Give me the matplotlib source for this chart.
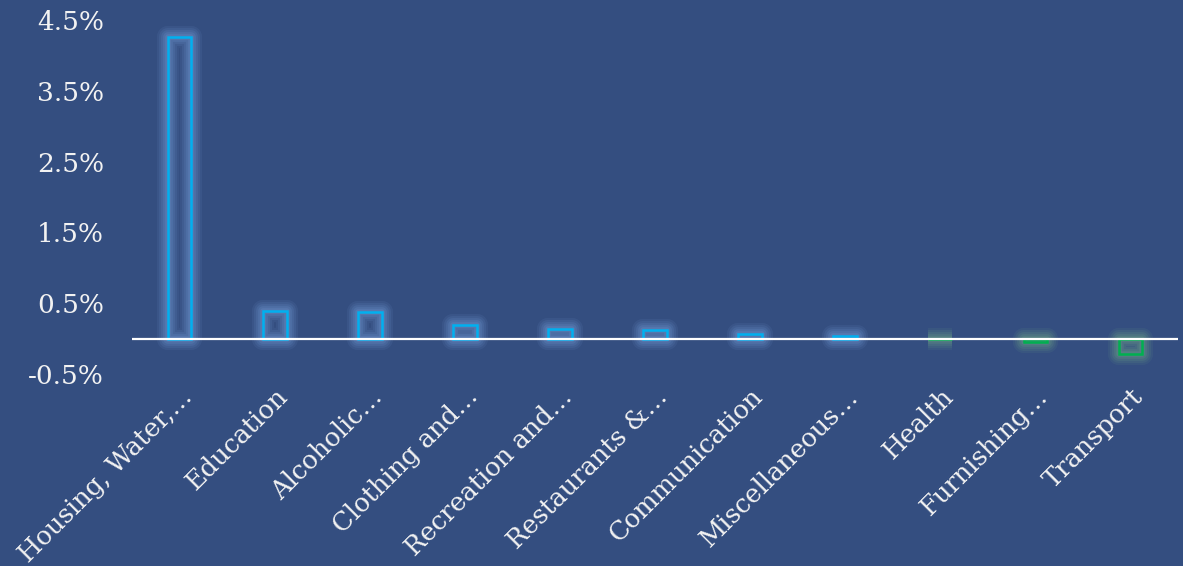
import matplotlib.pyplot as plt
from matplotlib.transforms import ScaledTranslation

categories = ['Housing, Water,…', 'Education', 'Alcoholic…', 'Clothing and…',
              'Recreation and…', 'Restaurants &…', 'Communication',
              'Miscellaneous…', 'Health', 'Furnishing…', 'Transport']
values = [4.26, 0.39, 0.37, 0.19, 0.14, 0.12, 0.07, 0.04, -0.01, -0.05, -0.22]
yticks = [-0.5, 0.5, 1.5, 2.5, 3.5, 4.5]

bg = '#344e80'
plt.rcParams['font.family'] = ['DejaVu Serif']

fig = plt.figure(figsize=(11.83, 5.66), dpi=100, facecolor=bg)
ax = fig.add_axes([0.1116, 0.3392, 0.8842, 0.6255], facecolor=bg)

x = list(range(len(categories)))
edge = ['#00b0f0' if v >= 0 else '#00b050' for v in values]
glow = ['#86b2ee' if v >= 0 else '#7fbf8a' for v in values]

# soft glow behind the outlines
for lw, a in [(16, 0.08), (13, 0.09), (10, 0.11), (7, 0.13), (4, 0.15)]:
    ax.bar(x, values, width=0.25, color='none', edgecolor=glow, linewidth=lw,
           alpha=a, joinstyle='round', zorder=1)
ax.bar(x, values, width=0.25, color='none', edgecolor=edge, linewidth=1.8, zorder=3)

ax.axhline(0, color='white', linewidth=1.6, zorder=4)

ax.set_xlim(-0.5, 10.5)
ax.set_ylim(-0.5, 4.5)
ax.set_yticks(yticks)
ax.set_yticklabels([f'{t:.1f}%' for t in yticks], color='#f2f2f2', fontsize=19)
ax.set_xticks(x)
ax.set_xticklabels(categories, rotation=45, ha='right', rotation_mode='anchor',
                   color='#f2f2f2', fontsize=18.5)
shift = ScaledTranslation(12 / 100, 0, fig.dpi_scale_trans)
for lbl in ax.get_xticklabels():
    lbl.set_transform(lbl.get_transform() + shift)
ax.tick_params(axis='y', length=0, pad=20)
ax.tick_params(axis='x', length=0, pad=7)
for s in ax.spines.values():
    s.set_visible(False)

fig.savefig('out.png', dpi=100, facecolor=bg)
